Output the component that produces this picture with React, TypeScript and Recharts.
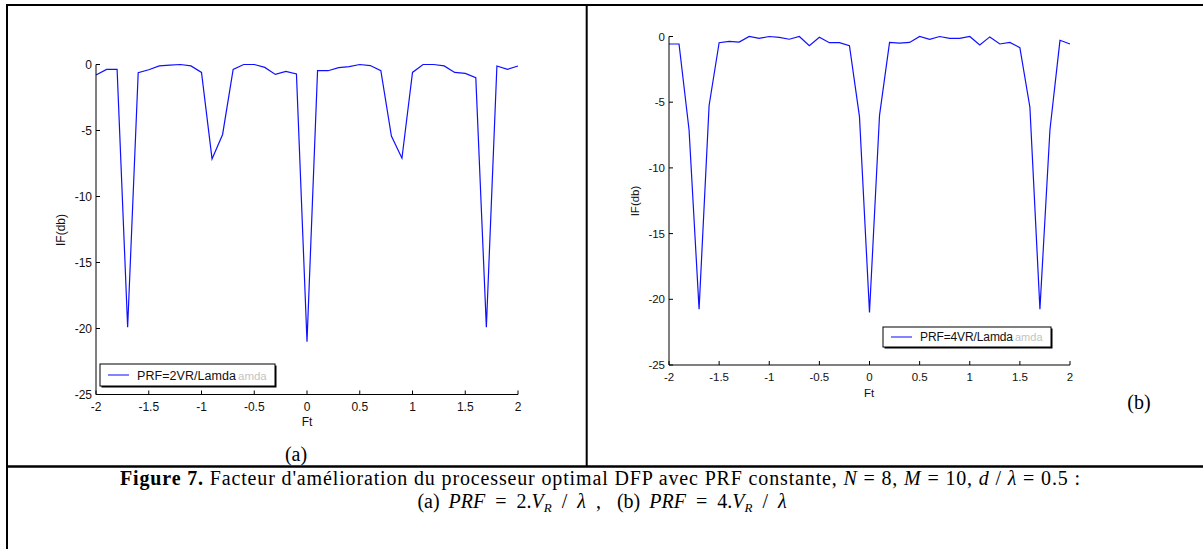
import React from 'react';
import { LineChart, Line, XAxis, YAxis } from 'recharts';

// Ft axis samples
const ftValues = [
  -2.0, -1.9, -1.8, -1.7, -1.6, -1.5, -1.4, -1.3, -1.2, -1.1,
  -1.0, -0.9, -0.8, -0.7, -0.6, -0.5, -0.4, -0.3, -0.2, -0.1,
  0.0, 0.1, 0.2, 0.3, 0.4, 0.5, 0.6, 0.7, 0.8, 0.9,
  1.0, 1.1, 1.2, 1.3, 1.4, 1.5, 1.6, 1.7, 1.8, 1.9, 2.0,
];

// (a) PRF = 2VR/Lamda
const ifPrf2 = [
  -0.8, -0.37, -0.37, -19.9, -0.62, -0.4, -0.11, -0.04, 0, -0.11,
  -0.6, -7.15, -5.3, -0.37, 0, 0, -0.22, -0.75, -0.52, -0.72,
  -21.0, -0.47, -0.47, -0.24, -0.16, 0, -0.08, -0.47, -5.42, -7.1,
  -0.6, 0, 0, -0.11, -0.6, -0.67, -1.0, -19.9, -0.11, -0.37, -0.11,
];

// (b) PRF = 4VR/Lamda
const ifPrf4 = [
  -0.57, -0.57, -7.1, -20.75, -5.25, -0.47, -0.37, -0.42, 0, -0.14,
  0, -0.06, -0.21, 0, -0.7, -0.06, -0.47, -0.47, -0.7, -6.1,
  -21.0, -6.0, -0.45, -0.5, -0.45, 0, -0.21, 0, -0.14, -0.14,
  0, -0.64, -0.03, -0.57, -0.45, -0.85, -5.38, -20.75, -7.1, -0.29, -0.57,
];

const xTicks = [-2, -1.5, -1, -0.5, 0, 0.5, 1, 1.5, 2];
const yTicks = [-25, -20, -15, -10, -5, 0];

const legendA = 'PRF=2VR/Lamda';
const legendB = 'PRF=4VR/Lamda';
const legendGhost = 'amda';

const dataA = ftValues.map((ft, i) => ({ ft, v: ifPrf2[i] }));
const dataB = ftValues.map((ft, i) => ({ ft, v: ifPrf4[i] }));

const SANS = '"Liberation Sans", Arial, sans-serif';
const SERIF = '"Liberation Serif", "Times New Roman", serif';

function XTick(props: any) {
  const { x, y, payload, fs } = props;
  return (
    <g>
      <line x1={x} x2={x} y1={y} y2={y - 4} stroke="#000" strokeWidth={1} />
      <text x={x} y={y + 16} textAnchor="middle" fontFamily={SANS} fontSize={fs} fill="#111">
        {String(payload.value)}
      </text>
    </g>
  );
}

function YTick(props: any) {
  const { x, y, payload, fs } = props;
  return (
    <g>
      <line x1={x} x2={x + 4} y1={y} y2={y} stroke="#000" strokeWidth={1} />
      <text x={x - 4} y={y + fs * 0.36} textAnchor="end" fontFamily={SANS} fontSize={fs} fill="#111">
        {String(payload.value)}
      </text>
    </g>
  );
}

function Panel(props: {
  data: { ft: number; v: number }[];
  left: number;
  width: number;
  height: number;
  margin: { top: number; right: number; bottom: number; left: number };
  fs: number;
}) {
  const { data, left, width, height, margin, fs } = props;
  return (
    <div style={{ position: 'absolute', left, top: 0, width, height }}>
      <LineChart width={width} height={height} data={data} margin={margin}>
        <XAxis
          xAxisId="b"
          dataKey="ft"
          type="number"
          domain={[-2, 2]}
          ticks={xTicks}
          interval={0}
          height={30}
          tickSize={0}
          tickMargin={0}
          tickLine={false}
          axisLine={{ stroke: '#000', strokeWidth: 1 }}
          tick={<XTick fs={fs} />}
        />
        <XAxis
          xAxisId="t"
          orientation="top"
          dataKey="ft"
          type="number"
          domain={[-2, 2]}
          ticks={xTicks}
          interval={0}
          height={0}
          mirror
          tickSize={4}
          tickFormatter={() => ''}
          tickLine={{ stroke: '#000' }}
          axisLine={{ stroke: '#000', strokeWidth: 1 }}
        />
        <YAxis
          yAxisId="l"
          type="number"
          domain={[-25, 0]}
          ticks={yTicks}
          interval={0}
          width={40}
          tickSize={0}
          tickMargin={0}
          tickLine={false}
          axisLine={{ stroke: '#000', strokeWidth: 1 }}
          tick={<YTick fs={fs} />}
        />
        <YAxis
          yAxisId="r"
          orientation="right"
          type="number"
          domain={[-25, 0]}
          ticks={yTicks}
          interval={0}
          width={0}
          mirror
          tickSize={4}
          tickFormatter={() => ''}
          tickLine={{ stroke: '#000' }}
          axisLine={{ stroke: '#000', strokeWidth: 1 }}
        />
        <Line
          xAxisId="b"
          yAxisId="l"
          type="linear"
          dataKey="v"
          stroke="#1010ff"
          strokeWidth={1.2}
          dot={false}
          isAnimationActive={false}
        />
      </LineChart>
    </div>
  );
}

function LegendBox(props: { x: number; y: number; w: number; h: number; label: string; fs: number; blackLen: number }) {
  const { x, y, w, h, label, fs, blackLen } = props;
  const base = y + h / 2 + fs * 0.36;
  return (
    <g>
      <rect x={x + 1.5} y={y + 1.5} width={w} height={h} fill="#000" />
      <rect x={x} y={y} width={w} height={h} fill="#fff" stroke="#000" strokeWidth={1} />
      <line x1={x + 8} x2={x + 29} y1={y + h / 2} y2={y + h / 2} stroke="#4040ff" strokeWidth={1.3} />
      <text x={x + 37} y={base} fontFamily={SANS} fontSize={fs} fill="#111" textLength={blackLen} lengthAdjust="spacing">
        {label}
      </text>
      <text x={x + 39 + blackLen} y={base} fontFamily={SANS} fontSize={fs - 1} fill="#c4c4c4">
        {legendGhost}
      </text>
    </g>
  );
}

export default function App() {
  return (
    <div style={{ position: 'absolute', left: 0, top: 0, width: 1203, height: 549, background: '#fff' }}>
      <Panel
        data={dataA}
        left={0}
        width={600}
        height={440}
        margin={{ top: 64.5, right: 82, bottom: 15.5, left: 56 }}
        fs={12}
      />
      <Panel
        data={dataB}
        left={600}
        width={603}
        height={440}
        margin={{ top: 36.5, right: 133, bottom: 45, left: 29 }}
        fs={11.5}
      />
      <svg
        width={1203}
        height={549}
        style={{ position: 'absolute', left: 0, top: 0, pointerEvents: 'none' }}
      >
        {/* frame */}
        <line x1={6} x2={1203} y1={5} y2={5} stroke="#000" strokeWidth={2} />
        <line x1={7} x2={7} y1={4} y2={549} stroke="#000" strokeWidth={2} />
        <line x1={586.7} x2={586.7} y1={5} y2={466} stroke="#000" strokeWidth={2} />
        <line x1={6} x2={1203} y1={466.5} y2={466.5} stroke="#000" strokeWidth={2.5} />

        {/* axis titles */}
        <text x={307} y={426} textAnchor="middle" fontFamily={SANS} fontSize={12} fill="#111">Ft</text>
        <text transform="translate(65,230) rotate(-90)" textAnchor="middle" fontFamily={SANS} fontSize={12} fill="#111">IF(db)</text>
        <text x={869} y={397} textAnchor="middle" fontFamily={SANS} fontSize={11.5} fill="#111">Ft</text>
        <text transform="translate(639,201) rotate(-90)" textAnchor="middle" fontFamily={SANS} fontSize={11.5} fill="#111">IF(db)</text>

        {/* legends */}
        <LegendBox x={100} y={364} w={175} h={22} label={legendA} fs={12.5} blackLen={99} />
        <LegendBox x={883} y={327} w={168} h={20} label={legendB} fs={12} blackLen={93} />

        {/* panel labels */}
        <text x={296} y={461} textAnchor="middle" fontFamily={SERIF} fontSize={20} fill="#000">(a)</text>
        <text x={1139} y={409} textAnchor="middle" fontFamily={SERIF} fontSize={20} fill="#000">(b)</text>

        {/* caption */}
        <text x={600} y={485} textAnchor="middle" fontFamily={SERIF} fontSize={20} fill="#000" textLength={960} lengthAdjust="spacing">
          <tspan fontWeight="bold">Figure 7.</tspan>
          <tspan> Facteur d'amélioration du processeur optimal DFP avec PRF constante, </tspan>
          <tspan fontStyle="italic">N</tspan>
          <tspan> = 8, </tspan>
          <tspan fontStyle="italic">M</tspan>
          <tspan> = 10,  </tspan>
          <tspan fontStyle="italic">d</tspan>
          <tspan> / </tspan>
          <tspan fontStyle="italic">λ</tspan>
          <tspan> = 0.5 :</tspan>
        </text>
        <text x={602} y={508} textAnchor="middle" fontFamily={SERIF} fontSize={20} fill="#000" style={{ wordSpacing: 5 }}>
          <tspan>(a)</tspan>
          <tspan dx={9} fontStyle="italic">PRF</tspan>
          <tspan> = 2.</tspan>
          <tspan fontStyle="italic">V</tspan>
          <tspan fontStyle="italic" fontSize={13} dy={4}>R</tspan>
          <tspan dy={-4}> / </tspan>
          <tspan fontStyle="italic">λ</tspan>
          <tspan> , </tspan>
          <tspan dx={6}>(b)</tspan>
          <tspan dx={9} fontStyle="italic">PRF</tspan>
          <tspan> = 4.</tspan>
          <tspan fontStyle="italic">V</tspan>
          <tspan fontStyle="italic" fontSize={13} dy={4}>R</tspan>
          <tspan dy={-4}> / </tspan>
          <tspan fontStyle="italic">λ</tspan>
        </text>
      </svg>
    </div>
  );
}
